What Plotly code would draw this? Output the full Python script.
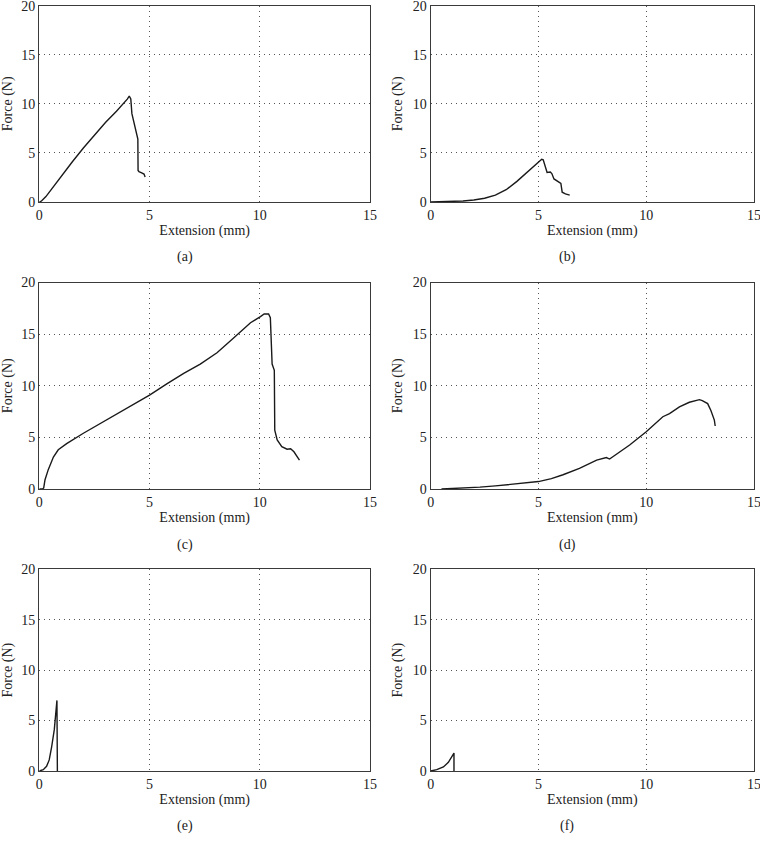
import plotly.graph_objects as go

# ---------------- data ----------------
a_x = [0, 0.1, 0.3, 0.6, 1.0, 1.5, 2.0, 2.5, 3.0, 3.5, 3.8, 4.0, 4.08, 4.15, 4.2, 4.3, 4.42, 4.47, 4.48, 4.52, 4.62, 4.75, 4.8]
a_y = [0, 0.1, 0.55, 1.45, 2.65, 4.1, 5.5, 6.85, 8.1, 9.25, 9.95, 10.5, 10.8, 10.5, 9.0, 7.9, 6.6, 6.4, 3.2, 3.1, 3.0, 2.85, 2.55]

b_x = [0, 0.5, 1.0, 1.5, 2.0, 2.5, 3.0, 3.5, 4.0, 4.5, 4.8, 5.0, 5.15, 5.22, 5.3, 5.4, 5.55, 5.62, 5.72, 5.85, 6.0, 6.04, 6.1, 6.25, 6.45]
b_y = [0, 0.01, 0.05, 0.1, 0.2, 0.38, 0.7, 1.25, 2.1, 3.1, 3.75, 4.15, 4.35, 4.3, 3.6, 3.0, 3.05, 2.9, 2.35, 2.15, 2.0, 1.9, 1.0, 0.82, 0.7]

c_x = [0, 0.15, 0.2, 0.26, 0.41, 0.64, 0.86, 1.24, 2.0, 2.76, 3.5, 4.27, 5.0, 5.8, 6.55, 7.3, 8.06, 8.8, 9.58, 10.03, 10.2, 10.4, 10.48, 10.56, 10.66, 10.68, 10.79, 11.0, 11.24, 11.4, 11.55, 11.8]
c_y = [0, 0, 0.1, 0.9, 1.9, 3.1, 3.8, 4.4, 5.4, 6.35, 7.3, 8.25, 9.1, 10.2, 11.2, 12.1, 13.2, 14.6, 16.1, 16.7, 16.95, 16.95, 16.6, 12.1, 11.5, 5.7, 4.75, 4.1, 3.85, 3.9, 3.6, 2.8]

d_x = [0.5, 1.5, 2.28, 3.0, 3.83, 4.5, 5.0, 5.6, 6.14, 6.9, 7.7, 8.15, 8.3, 8.5, 9.23, 10.0, 10.77, 11.08, 11.54, 12.0, 12.47, 12.6, 12.85, 13.0, 13.16, 13.2]
d_y = [0, 0.07, 0.18, 0.3, 0.45, 0.6, 0.72, 1.0, 1.38, 2.0, 2.8, 3.05, 2.9, 3.2, 4.26, 5.55, 7.0, 7.3, 7.95, 8.4, 8.65, 8.56, 8.27, 7.6, 6.67, 6.1]

e_x = [0, 0.18, 0.33, 0.45, 0.56, 0.68, 0.80, 0.82]
e_y = [0, 0.13, 0.46, 1.1, 2.4, 4.1, 7.0, 0]

f_x = [0, 0.28, 0.59, 0.82, 1.08, 1.08]
f_y = [0, 0.13, 0.4, 0.86, 1.78, 0]

panels = [(a_x, a_y), (b_x, b_y), (c_x, c_y), (d_x, d_y), (e_x, e_y), (f_x, f_y)]
sub_labels = ["(a)", "(b)", "(c)", "(d)", "(e)", "(f)"]
x_ticks = [0, 5, 10, 15]
y_ticks = [0, 5, 10, 15, 20]

# ---------------- layout geometry ----------------
W, H = 760, 843
col_px = [(39.3, 370.0), (430.7, 754.0)]
row_px = [(5.7, 202.0), (282.5, 489.0), (569.3, 771.0)]
col_centers = [185, 567]
label_y_px = [257, 545, 826]

FONT = "Liberation Serif"
FS = 14
fig = go.Figure()
annotations = []

for i, (xs, ys) in enumerate(panels):
    r, c = divmod(i, 2)
    n = "" if i == 0 else str(i + 1)
    fig.add_trace(go.Scatter(x=xs, y=ys, mode="lines",
                             line=dict(color="#1a1a1a", width=1.4),
                             xaxis="x" + n, yaxis="y" + n, showlegend=False,
                             hoverinfo="skip"))
    x0, x1 = col_px[c]
    y0, y1 = row_px[r]
    common = dict(showline=True, mirror=True, linecolor="#3a3a3a", linewidth=1.4,
                  showgrid=True, gridcolor="#555555", griddash="1px,4px", gridwidth=1,
                  zeroline=False, ticks="", automargin=False, ticklabeloverflow="allow",
                  tickfont=dict(family=FONT, size=FS, color="#222"),
                  fixedrange=True)
    fig.layout["xaxis" + n] = dict(common, domain=[x0 / W, x1 / W], range=[0, 15],
                                   tickvals=x_ticks, anchor="y" + n,
                                   title=dict(text="Extension (mm)", standoff=3,
                                              font=dict(family=FONT, size=FS, color="#222")))
    fig.layout["yaxis" + n] = dict(common, domain=[1 - y1 / H, 1 - y0 / H], range=[0, 20],
                                   tickvals=y_ticks, anchor="x" + n,
                                   title=dict(text="Force (N)", standoff=6,
                                              font=dict(family=FONT, size=FS, color="#222")))
    annotations.append(dict(text=sub_labels[i], x=col_centers[c] / W, y=1 - label_y_px[r] / H,
                            xref="paper", yref="paper", showarrow=False,
                            xanchor="center", yanchor="middle",
                            font=dict(family=FONT, size=FS, color="#222")))

fig.update_layout(width=W, height=H, margin=dict(l=0, r=0, t=0, b=0),
                  paper_bgcolor="white", plot_bgcolor="white",
                  annotations=annotations)
fig.write_html("out.html", config={"displayModeBar": False},
               post_script="document.body.style.margin='0px';document.body.style.overflow='hidden';")
